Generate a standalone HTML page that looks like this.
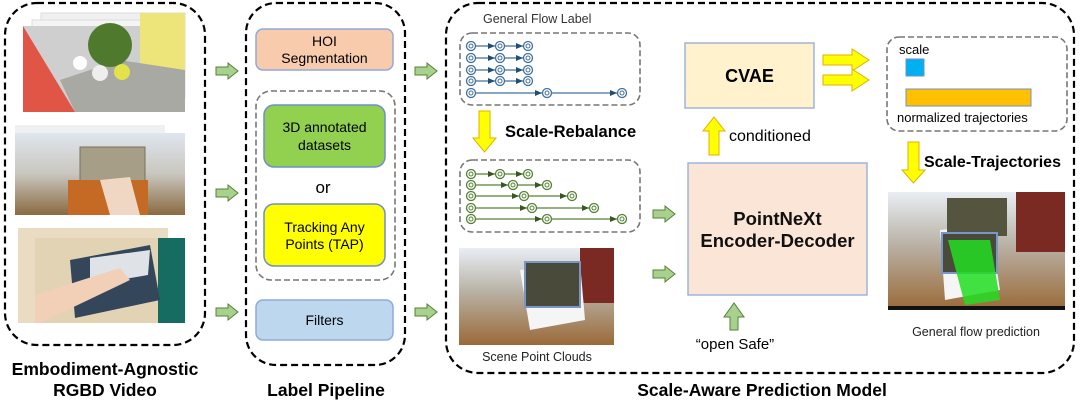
<!DOCTYPE html>
<html><head><meta charset="utf-8"><style>
html,body{margin:0;padding:0;background:#fff;}
svg{display:block;}
text{font-family:"Liberation Sans","DejaVu Sans",sans-serif;}
</style></head><body>
<svg width="1080" height="400" viewBox="0 0 1080 400" xmlns="http://www.w3.org/2000/svg">
<defs>
<linearGradient id="wall" x1="0" y1="0" x2="0" y2="1"><stop offset="0" stop-color="#dfe6ee"/><stop offset="0.5" stop-color="#c9c6bf"/><stop offset="1" stop-color="#8a6a40"/></linearGradient>
<linearGradient id="floor" x1="0" y1="0" x2="0" y2="1"><stop offset="0" stop-color="#e8eef4"/><stop offset="0.45" stop-color="#b9b1a5"/><stop offset="1" stop-color="#9a6a38"/></linearGradient>
<g id="ga"><polygon points="0,-4 12,-4 12,-8 22,0 12,8 12,4 0,4" fill="#a9d18e" stroke="#548235" stroke-width="1"/></g>
<g id="nb"><circle r="4.5" fill="#fff" stroke="#41719c" stroke-width="1.3"/><circle r="2" fill="none" stroke="#41719c" stroke-width="1"/></g>
<g id="ng"><circle r="4.5" fill="#fff" stroke="#548235" stroke-width="1.3"/><circle r="2" fill="none" stroke="#548235" stroke-width="1"/></g>
</defs>

<g fill="none" stroke="#000" stroke-width="2.2" stroke-dasharray="7,4">
<rect x="5" y="3" width="200" height="342" rx="32"/>
<rect x="246" y="3" width="159" height="362" rx="30"/>
<rect x="446" y="3" width="628" height="370" rx="32"/>
</g>

<g>
<rect x="41" y="13" width="144" height="85" fill="#f0f0f0" stroke="#ddd"/>
<rect x="32" y="20" width="145" height="85" fill="#f4f4f4" stroke="#ddd"/>
<rect x="23" y="26" width="162" height="86" fill="#cfcfcf"/>
<polygon points="23,26 75,112 23,112" fill="#e05545"/>
<rect x="140" y="13" width="45" height="60" fill="#eee57a"/>
<polygon points="75,112 185,112 185,70 120,60 60,80" fill="#a9a9a4"/>
<circle cx="110" cy="45" r="22" fill="#4f7a2e"/>
<circle cx="80" cy="63" r="7" fill="#fff"/><circle cx="100" cy="73" r="8" fill="#eee"/><circle cx="122" cy="72" r="8" fill="#e4e24a"/>
<rect x="15" y="125" width="150" height="80" fill="#eef0f2"/>
<rect x="15" y="133" width="170" height="82" fill="url(#wall)"/>
<rect x="80" y="147" width="65" height="50" fill="#a69e86" stroke="#7b705a"/>
<rect x="68" y="180" width="80" height="35" fill="#c46a25"/>
<polygon points="100,180 130,177 140,215 110,215" fill="#f0d7c4"/>
<rect x="18" y="228" width="150" height="95" fill="#e9dcc2"/>
<rect x="35" y="238" width="150" height="85" fill="#e3d3b5"/>
<rect x="158" y="238" width="27" height="85" fill="#176c62"/>
<polygon points="70,260 150,245 160,300 75,318" fill="#33465a"/>
<polygon points="90,258 150,250 148,275 90,285" fill="#dfe3e8"/>
<polygon points="35,295 120,268 130,280 40,323 35,323" fill="#f2cfb7"/>
</g>

<use href="#ga" x="216" y="71"/><use href="#ga" x="216" y="193"/><use href="#ga" x="216" y="312"/>
<use href="#ga" x="415" y="71"/><use href="#ga" x="415" y="312"/>
<use href="#ga" x="653" y="214"/><use href="#ga" x="653" y="274"/>
<polygon points="730,330 738,330 738,317 744,317 734,303 724,317 730,317" fill="#a9d18e" stroke="#548235" stroke-width="1"/>

<rect x="256" y="29" width="137" height="41" rx="7" fill="#f8cbad" stroke="#8faadc" stroke-width="1.5"/>
<text x="324.5" y="46" font-size="14" text-anchor="middle">HOI</text>
<text x="324.5" y="63" font-size="14" text-anchor="middle">Segmentation</text>
<rect x="256" y="91" width="139" height="189" rx="15" fill="none" stroke="#777" stroke-width="1.6" stroke-dasharray="6,3"/>
<rect x="264" y="105" width="121" height="62" rx="10" fill="#92d050" stroke="#6f8fc8" stroke-width="1.5"/>
<text x="324.5" y="132" font-size="14" text-anchor="middle">3D annotated</text>
<text x="324.5" y="150" font-size="14" text-anchor="middle">datasets</text>
<text x="323" y="193" font-size="17" text-anchor="middle">or</text>
<rect x="264" y="204" width="121" height="62" rx="10" fill="#ffff00" stroke="#6f8fc8" stroke-width="1.5"/>
<text x="324.5" y="232" font-size="14" text-anchor="middle">Tracking Any</text>
<text x="324.5" y="249" font-size="14" text-anchor="middle">Points (TAP)</text>
<rect x="256" y="300" width="137" height="40" rx="7" fill="#bdd7ee" stroke="#8faadc" stroke-width="1.5"/>
<text x="324.5" y="325" font-size="14" text-anchor="middle">Filters</text>

<g font-weight="bold" font-size="17.5" text-anchor="middle">
<text x="105" y="375">Embodiment-Agnostic</text>
<text x="105" y="396">RGBD Video</text>
<text x="326" y="396">Label Pipeline</text>
<text x="762" y="396">Scale-Aware Prediction Model</text>
</g>

<text x="483" y="23" font-size="12.5" fill="#333">General Flow Label</text>
<rect x="460" y="33" width="180" height="72" rx="12" fill="none" stroke="#777" stroke-width="1.6" stroke-dasharray="6,3"/>
<g stroke="#41719c" stroke-width="1.3" fill="#41719c">
<line x1="471" y1="46" x2="528" y2="46"/><line x1="471" y1="58" x2="528" y2="58"/><line x1="471" y1="70" x2="528" y2="70"/><line x1="471" y1="81" x2="528" y2="81"/><line x1="471" y1="93" x2="622" y2="93"/>
</g>
<g fill="#1f4e79">
<polygon points="488,43 495,46 488,49"/><polygon points="516,43 523,46 516,49"/>
<polygon points="488,55 495,58 488,61"/><polygon points="516,55 523,58 516,61"/>
<polygon points="488,67 495,70 488,73"/><polygon points="516,67 523,70 516,73"/>
<polygon points="488,78 495,81 488,84"/><polygon points="516,78 523,81 516,84"/>
<polygon points="535,90 542,93 535,96"/><polygon points="610,90 617,93 610,96"/>
</g>
<use href="#nb" x="471" y="46"/><use href="#nb" x="500" y="46"/><use href="#nb" x="528" y="46"/>
<use href="#nb" x="471" y="58"/><use href="#nb" x="500" y="58"/><use href="#nb" x="528" y="58"/>
<use href="#nb" x="471" y="70"/><use href="#nb" x="500" y="70"/><use href="#nb" x="528" y="70"/>
<use href="#nb" x="471" y="81"/><use href="#nb" x="500" y="81"/><use href="#nb" x="528" y="81"/>
<use href="#nb" x="471" y="93"/><use href="#nb" x="547" y="93"/><use href="#nb" x="622" y="93"/>

<polygon points="479,111 490,111 490,138 496,138 484.5,152 473,138 479,138" fill="#ffff00" stroke="#e0b000" stroke-width="1"/>
<text x="505" y="137" font-size="16.5" font-weight="bold">Scale-Rebalance</text>

<rect x="460" y="160" width="180" height="72" rx="12" fill="none" stroke="#777" stroke-width="1.6" stroke-dasharray="6,3"/>
<g stroke="#548235" stroke-width="1.3">
<line x1="471" y1="174" x2="528" y2="174"/><line x1="471" y1="185" x2="547" y2="185"/><line x1="471" y1="196" x2="572" y2="196"/><line x1="471" y1="208" x2="594" y2="208"/><line x1="471" y1="219" x2="622" y2="219"/>
</g>
<g fill="#385723">
<polygon points="488,171 495,174 488,177"/><polygon points="516,171 523,174 516,177"/>
<polygon points="501,182 508,185 501,188"/><polygon points="535,182 542,185 535,188"/>
<polygon points="512,193 519,196 512,199"/><polygon points="560,193 567,196 560,199"/>
<polygon points="520,205 527,208 520,211"/><polygon points="582,205 589,208 582,211"/>
<polygon points="535,216 542,219 535,222"/><polygon points="610,216 617,219 610,222"/>
</g>
<use href="#ng" x="471" y="174"/><use href="#ng" x="500" y="174"/><use href="#ng" x="528" y="174"/>
<use href="#ng" x="471" y="185"/><use href="#ng" x="513" y="185"/><use href="#ng" x="547" y="185"/>
<use href="#ng" x="471" y="196"/><use href="#ng" x="524" y="196"/><use href="#ng" x="572" y="196"/>
<use href="#ng" x="471" y="208"/><use href="#ng" x="532" y="208"/><use href="#ng" x="594" y="208"/>
<use href="#ng" x="471" y="219"/><use href="#ng" x="547" y="219"/><use href="#ng" x="622" y="219"/>

<rect x="459" y="248" width="155" height="97" fill="url(#floor)"/>
<rect x="580" y="248" width="34" height="55" fill="#7a2a22"/>
<polygon points="520,270 580,262 585,320 530,330" fill="#f5f5f5"/>
<rect x="525" y="262" width="55" height="45" fill="#4a4a3a" stroke="#7a96c8" stroke-width="2"/>
<text x="537" y="361" font-size="12.5" fill="#222" text-anchor="middle">Scene Point Clouds</text>

<rect x="685" y="43" width="129" height="65" fill="#fff2cc" stroke="#8faadc" stroke-width="1.3"/>
<text x="749.5" y="82" font-size="18" font-weight="bold" text-anchor="middle">CVAE</text>
<polygon points="709,155 719,155 719,131 725,131 714,117 703,131 709,131" fill="#ffff00" stroke="#e0b000" stroke-width="1"/>
<text x="729" y="141" font-size="16">conditioned</text>

<rect x="688" y="163" width="179" height="132" fill="#fbe5d6" stroke="#8faadc" stroke-width="1.3"/>
<text x="777.5" y="225" font-size="18.5" font-weight="bold" text-anchor="middle" fill="#111">PointNeXt</text>
<text x="777.5" y="247" font-size="18.5" font-weight="bold" text-anchor="middle" fill="#111">Encoder-Decoder</text>
<text x="735" y="349" font-size="15" text-anchor="middle">“open Safe”</text>

<polygon points="823,55 852,55 852,49 869,60 852,71 852,65 823,65" fill="#ffff00" stroke="#e0b000" stroke-width="1"/>
<polygon points="823,75 852,75 852,69 869,80 852,91 852,85 823,85" fill="#ffff00" stroke="#e0b000" stroke-width="1"/>

<rect x="887" y="37" width="180" height="94" rx="12" fill="none" stroke="#777" stroke-width="1.6" stroke-dasharray="6,3"/>
<text x="899" y="54" font-size="13">scale</text>
<rect x="906" y="59" width="18" height="17" fill="#00b0f0" stroke="#6f8fc8"/>
<rect x="906" y="89" width="125" height="17" fill="#ffc000" stroke="#6f8fc8"/>
<text x="897" y="122" font-size="13">normalized trajectories</text>

<polygon points="908,142 919,142 919,170 925,170 913.5,183 902,170 908,170" fill="#ffff00" stroke="#e0b000" stroke-width="1"/>
<text x="924" y="167" font-size="16" font-weight="bold">Scale-Trajectories</text>

<rect x="888" y="192" width="177" height="118" fill="url(#floor)"/>
<rect x="1016" y="192" width="49" height="60" fill="#7a2a22"/>
<polygon points="940,230 990,225 1000,290 945,300" fill="#f5f5f5"/>
<rect x="947" y="198" width="60" height="38" fill="#55553f"/>
<rect x="942" y="233" width="55" height="40" fill="#4a4a3a" stroke="#7a96c8" stroke-width="2"/>
<polygon points="948,240 990,240 1000,300 965,305" fill="#22dd22" opacity="0.85"/>
<rect x="888" y="306" width="177" height="4" fill="#111"/>
<text x="976" y="336" font-size="12.5" fill="#222" text-anchor="middle">General flow prediction</text>
</svg>
</body></html>
